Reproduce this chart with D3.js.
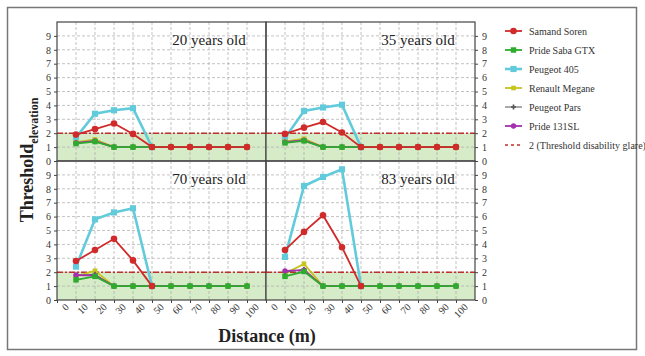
<!DOCTYPE html>
<html>
<head>
<meta charset="utf-8">
<script src="https://cdn.jsdelivr.net/npm/d3@7"></script>
<style>
  body { margin: 0; background: #fff; }
  text { font-family: "Liberation Serif", "DejaVu Serif", serif; }
</style>
</head>
<body>
<div id="chart"></div>
<script>
(function(){
    // data
    const distances = [10, 20, 30, 40, 50, 60, 70, 80, 90, 100];
    const xTicks = [0, 10, 20, 30, 40, 50, 60, 70, 80, 90, 100];
    const yTicks = [0, 1, 2, 3, 4, 5, 6, 7, 8, 9];
    const panelTitles = ['20 years old', '35 years old', '70 years old', '83 years old'];
    const seriesNames = ['Samand Soren', 'Pride Saba GTX', 'Peugeot 405', 'Renault Megane', 'Peugeot Pars', 'Pride 131SL'];
    const seriesColors = ['#d12a2a', '#2eab2e', '#62cbdb', '#c6c41e', '#555555', '#a62fb0'];
    const glareLabel = '2 (Threshold disability glare)';
    const glareValue = 2;

    // one array per series, per panel (null = not drawn)
    const samand20 = [1.9, 2.3, 2.7, 1.95, 1, 1, 1, 1, 1, 1];
    const saba20   = [1.25, 1.4, 1, 1, 1, 1, 1, 1, 1, 1];
    const p405_20  = [1.7, 3.4, 3.65, 3.8, 1, null, null, null, null, null];
    const megane20 = [1.35, 1.55, 1, 1, 1, 1, 1, 1, 1, 1];
    const pars20   = [1.3, 1.4, 1, 1, 1, 1, 1, 1, 1, 1];
    const p131_20  = [1.3, 1.45, 1, 1, 1, 1, 1, 1, 1, 1];

    const samand35 = [1.95, 2.4, 2.8, 2.05, 1, 1, 1, 1, 1, 1];
    const saba35   = [1.3, 1.45, 1, 1, 1, 1, 1, 1, 1, 1];
    const p405_35  = [1.65, 3.6, 3.85, 4.05, 1, null, null, null, null, null];
    const megane35 = [1.4, 1.6, 1, 1, 1, 1, 1, 1, 1, 1];
    const pars35   = [1.35, 1.45, 1, 1, 1, 1, 1, 1, 1, 1];
    const p131_35  = [1.35, 1.5, 1, 1, 1, 1, 1, 1, 1, 1];

    const samand70 = [2.8, 3.6, 4.4, 2.85, 1, null, null, null, null, null];
    const saba70   = [1.45, 1.7, 1, 1, 1, 1, 1, 1, 1, 1];
    const p405_70  = [2.4, 5.8, 6.3, 6.6, 1, null, null, null, null, null];
    const megane70 = [1.7, 2.1, 1, 1, 1, 1, 1, 1, 1, 1];
    const pars70   = [1.75, 1.85, 1, 1, 1, 1, 1, 1, 1, 1];
    const p131_70  = [1.8, 1.75, 1, 1, 1, 1, 1, 1, 1, 1];

    const samand83 = [3.6, 4.9, 6.1, 3.8, 1, null, null, null, null, null];
    const saba83   = [1.7, 2.05, 1, 1, 1, 1, 1, 1, 1, 1];
    const p405_83  = [3.1, 8.2, 8.85, 9.4, 1, null, null, null, null, null];
    const megane83 = [1.9, 2.6, 1, 1, 1, 1, 1, 1, 1, 1];
    const pars83   = [2.0, 2.2, 1, 1, 1, 1, 1, 1, 1, 1];
    const p131_83  = [2.1, 2.15, 1, 1, 1, 1, 1, 1, 1, 1];

    const panelData = [
        [samand20, saba20, p405_20, megane20, pars20, p131_20],
        [samand35, saba35, p405_35, megane35, pars35, p131_35],
        [samand70, saba70, p405_70, megane70, pars70, p131_70],
        [samand83, saba83, p405_83, megane83, pars83, p131_83],
    ];

    const fullWidth = 645;
    const fullHeight = 356;

    const svg = d3.select('#chart')
        .append('svg')
            .attr('width', fullWidth)
            .attr('height', fullHeight);

    // outer frame
    svg.append('rect')
        .attr('x', 7.5).attr('y', 7.5)
        .attr('width', 629).attr('height', 342)
        .style('fill', 'none')
        .style('stroke', '#777')
        .style('stroke-width', 1.5);

    const left = 57, pw = 209, top = 22, ph = 139;

    // panel layout: column, row
    const panels = [
        {col: 0, row: 0}, {col: 1, row: 0},
        {col: 0, row: 1}, {col: 1, row: 1},
    ];

    // draw order, back to front
    const drawOrder = [2, 3, 4, 5, 1, 0];
    const markerSize = [34, 30, 38, 22, 14, 22];

    panels.forEach((p, i) => {
        const x0 = left + p.col * pw;
        const y0 = top + p.row * ph;

        const xScale = d3.scaleLinear().domain([0, 110]).range([x0, x0 + pw]);
        const yScale = d3.scaleLinear().domain([0, 10]).range([y0 + ph, y0]);

        const g = svg.append('g');

        // green safe band
        g.append('rect')
            .attr('x', xScale(0)).attr('y', yScale(glareValue))
            .attr('width', pw).attr('height', yScale(0) - yScale(glareValue))
            .style('fill', '#d6ecc8');

        // grid
        g.selectAll('.vgrid').data(xTicks.slice(1))
            .join('line')
                .attr('x1', d => xScale(d)).attr('x2', d => xScale(d))
                .attr('y1', y0).attr('y2', y0 + ph)
                .style('stroke', '#aaa').style('stroke-width', 0.7)
                .style('stroke-dasharray', '3,2');
        g.selectAll('.hgrid').data(yTicks.slice(1))
            .join('line')
                .attr('x1', x0).attr('x2', x0 + pw)
                .attr('y1', d => yScale(d)).attr('y2', d => yScale(d))
                .style('stroke', '#aaa').style('stroke-width', 0.7)
                .style('stroke-dasharray', '3,2');

        // threshold line
        g.append('line')
            .attr('x1', x0).attr('x2', x0 + pw)
            .attr('y1', yScale(glareValue)).attr('y2', yScale(glareValue))
            .style('stroke', '#c0302a').style('stroke-width', 1.6)
            .style('stroke-dasharray', '6,2,2,2');

        // series
        const line = d3.line()
            .defined(d => d[1] != null)
            .x(d => xScale(d[0]))
            .y(d => yScale(d[1]));

        drawOrder.forEach(s => {
            const pts = distances.map((d, k) => [d, panelData[i][s][k]]);
            const color = seriesColors[s];
            g.append('path')
                .datum(pts)
                .attr('d', line)
                .style('fill', 'none')
                .style('stroke', color)
                .style('stroke-width', s === 2 ? 2.6 : (s === 4 ? 1 : 1.8));
            const sym = d3.symbol()
                .type(s === 0 || s === 5 ? d3.symbolCircle : (s === 4 ? d3.symbolCross : d3.symbolSquare))
                .size(markerSize[s]);
            g.selectAll(null).data(pts.filter(d => d[1] != null))
                .join('path')
                    .attr('transform', d => `translate(${xScale(d[0])},${yScale(d[1])})`)
                    .attr('d', sym)
                    .style('fill', color);
        });

        // panel frame
        g.append('rect')
            .attr('x', x0).attr('y', y0)
            .attr('width', pw).attr('height', ph)
            .style('fill', 'none')
            .style('stroke', '#444')
            .style('stroke-width', 1.2);

        // y axis
        const yAxis = p.col === 0
            ? d3.axisLeft(yScale).tickValues(yTicks).tickSize(3).tickPadding(3)
            : d3.axisRight(yScale).tickValues(yTicks).tickSize(3).tickPadding(4);
        const ya = svg.append('g')
            .attr('transform', `translate(${p.col === 0 ? x0 : x0 + pw}, 0)`)
            .call(yAxis);
        ya.select('.domain').remove();
        ya.selectAll('text').style('font-size', '10px').style('fill', '#333');
        ya.selectAll('line').style('stroke', '#444');

        // x axis under the bottom row
        if (p.row === 1) {
            const xa = svg.append('g')
                .attr('transform', `translate(0, ${y0 + ph})`)
                .call(d3.axisBottom(xScale).tickValues(xTicks).tickSize(3).tickPadding(2));
            xa.select('.domain').remove();
            xa.selectAll('line').style('stroke', '#444');
            xa.selectAll('text')
                .style('font-size', '10px').style('fill', '#333')
                .attr('text-anchor', 'end')
                .attr('dx', '0.3em').attr('dy', '0.9em')
                .attr('transform', 'rotate(-45)');
        }

        // panel title
        svg.append('text')
            .attr('x', xScale(80)).attr('y', y0 + 23)
            .attr('text-anchor', 'middle')
            .style('font-size', '15px').style('fill', '#222')
            .text(panelTitles[i]);
    });

    // axis titles
    const yt = svg.append('text')
        .attr('transform', 'translate(33, 160) rotate(-90)')
        .attr('text-anchor', 'middle')
        .style('font-weight', 'bold').style('fill', '#222');
    yt.append('tspan').style('font-size', '18px').text('Threshold');
    yt.append('tspan').attr('dy', 5).style('font-size', '12px').text('elevation');

    svg.append('text')
        .attr('x', 267).attr('y', 342)
        .attr('text-anchor', 'middle')
        .style('font-size', '18px').style('font-weight', 'bold').style('fill', '#222')
        .text('Distance (m)');

    // legend
    const legend = svg.append('g').attr('transform', 'translate(505, 31)');
    seriesNames.forEach((name, s) => {
        const row = legend.append('g').attr('transform', `translate(0, ${s * 19})`);
        row.append('line')
            .attr('x1', 0).attr('x2', 17)
            .style('stroke', seriesColors[s])
            .style('stroke-width', s === 2 ? 2.6 : (s === 4 ? 1 : 1.8));
        row.append('path')
            .attr('transform', 'translate(8.5, 0)')
            .attr('d', d3.symbol()
                .type(s === 0 || s === 5 ? d3.symbolCircle : (s === 4 ? d3.symbolCross : d3.symbolSquare))
                .size(markerSize[s]))
            .style('fill', seriesColors[s]);
        row.append('text')
            .attr('x', 24).attr('y', 3.5)
            .style('font-size', '10px').style('fill', '#333')
            .text(name);
    });
    const gRow = legend.append('g').attr('transform', `translate(0, ${6 * 19})`);
    gRow.append('line')
        .attr('x1', 0).attr('x2', 17)
        .style('stroke', '#c0302a').style('stroke-width', 1.6)
        .style('stroke-dasharray', '3,3');
    gRow.append('text')
        .attr('x', 24).attr('y', 3.5)
        .style('font-size', '10px').style('fill', '#333')
        .text(glareLabel);
}())
</script>
</body>
</html>
